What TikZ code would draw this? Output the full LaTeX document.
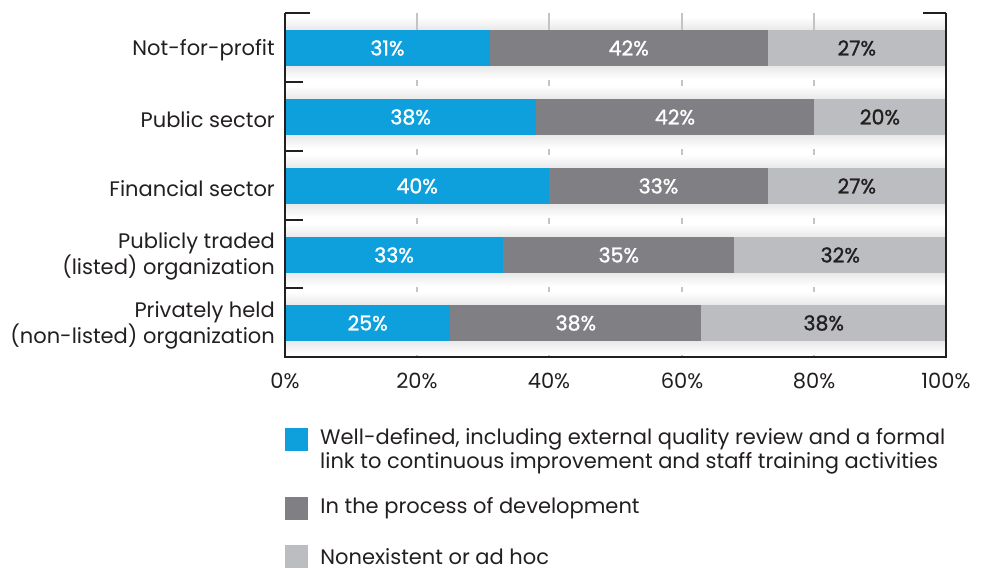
\documentclass[tikz,border=0pt]{standalone}
\usepackage{fontspec}
\setmainfont{Poppins}
\newfontfamily\medio[FakeBold=1.2]{Poppins}
\usetikzlibrary{positioning}
\definecolor{blu}{HTML}{0EA0DC}
\definecolor{scuro}{HTML}{808084}
\definecolor{chiaro}{HTML}{BCBDC0}
\definecolor{testo}{HTML}{231F20}
\definecolor{griglia}{HTML}{C4C4C6}
\tikzset{
  categoria/.style={font=\fontsize{21}{26}\selectfont, text=testo, align=right, anchor=east, inner sep=0pt},
  valore/.style={font=\medio\fontsize{20.5}{24}\selectfont, inner sep=0pt},
  legenda/.style={font=\fontsize{21}{24}\selectfont, text=testo, align=left, inner sep=0pt},
  quadrato/.style={minimum size=23pt, inner sep=0pt, draw=none},
  asse/.style={line width=2.4pt, draw=testo}
}
% riga: nome, y centro, blu, scuro, etichetta chiaro
\newcommand{\riga}[5]{
  \pgfmathsetmacro{\xa}{285+#3*6.61}
  \pgfmathsetmacro{\xb}{285+(#3+#4)*6.61}
  \shade[top color=white, bottom color=black!9] (285,#2-31) rectangle (946,#2-18);
  \shade[top color=black!9, bottom color=white] (285,#2+18) rectangle (946,#2+31);
  \fill[blu] (285,#2-18) rectangle (\xa,#2+18);
  \fill[scuro] (\xa,#2-18) rectangle (\xb,#2+18);
  \fill[chiaro] (\xb,#2-18) rectangle (946,#2+18);
  \node[valore, text=white] (b#1) at ({(285+\xa)/2},#2) {#3\%};
  \node[valore, text=white] (s#1) at ({(\xa+\xb)/2},#2) {#4\%};
  \node[valore, text=testo] (c#1) at ({(\xb+946)/2},#2) {#5\%};
}

\begin{document}
\begin{tikzpicture}[x=1pt, y=-1pt]
    \useasboundingbox (0,0) rectangle (989,570);
    % Griglia
    \draw[griglia, line width=1.8pt] (417,13) -- (417,357);
    \draw[griglia, line width=1.8pt] (549,13) -- (549,357);
    \draw[griglia, line width=1.8pt] (682,13) -- (682,357);
    \draw[griglia, line width=1.8pt] (814,13) -- (814,357);
    % Barre
    \riga{1}{48}{31}{42}{27}
    \riga{2}{117}{38}{42}{20}
    \riga{3}{186}{40}{33}{27}
    \riga{4}{255}{33}{35}{32}
    \riga{5}{323}{25}{38}{38}
    \draw[griglia, line width=1.8pt] (417,13) -- (417,30);
    \draw[griglia, line width=1.8pt] (549,13) -- (549,30);
    \draw[griglia, line width=1.8pt] (682,13) -- (682,30);
    \draw[griglia, line width=1.8pt] (814,13) -- (814,30);
    % Assi
    \draw[asse] (285,13) -- (285,357) -- (946,357) -- (946,13);
    \draw[asse] (285,13) -- (310,13);
    \draw[asse] (946,13) -- (923,13);
    \draw[asse] (285,82) -- (303,82);
    \draw[asse] (285,151) -- (303,151);
    \draw[asse] (285,220) -- (303,220);
    \draw[asse] (285,288) -- (303,288);
    % Categorie
    \node[categoria] (cat1) at (275,50) {Not-for-profit};
    \node[categoria] (cat2) at (275,120) {Public sector};
    \node[categoria] (cat3) at (275,189) {Financial sector};
    \node[categoria] (cat4) at (275,256) {Publicly traded\\(listed) organization};
    \node[categoria] (cat5) at (275,325) {Privately held\\(non-listed) organization};
    % Percentuali asse x
    \node[legenda] (p0) at (285,381) {0\%};
    \node[legenda] (p20) at (417,381) {20\%};
    \node[legenda] (p40) at (549,381) {40\%};
    \node[legenda] (p60) at (682,381) {60\%};
    \node[legenda] (p80) at (814,381) {80\%};
    \node[legenda] (p100) at (946,381) {100\%};
    % Legenda
    \node[quadrato, fill=blu] (q1) at (296.5,439.5) {};
    \node[quadrato, fill=scuro] (q2) at (296.5,508.5) {};
    \node[quadrato, fill=chiaro] (q3) at (296.5,556.5) {};
    \node[legenda, anchor=west] (l1) at (320,451) {Well-defined, including external quality review and a formal\\link to continuous improvement and staff training activities};
    \node[legenda, right=12pt of q2] (l2) {In the process of development};
    \node[legenda, right=12pt of q3] (l3) {Nonexistent or ad hoc};
\end{tikzpicture}
\end{document}
